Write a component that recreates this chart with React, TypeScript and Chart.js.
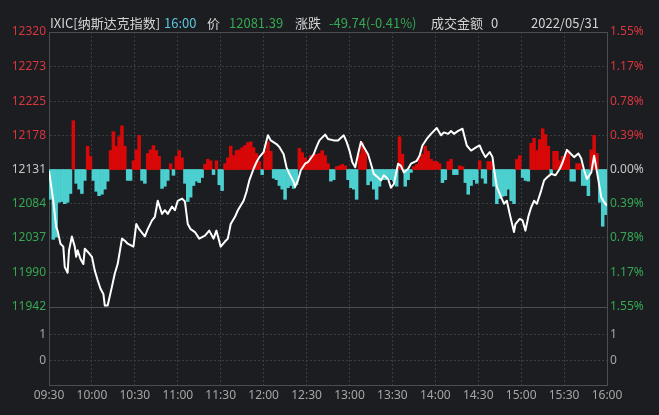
import { useEffect, useRef } from "react";
import { Chart, registerables } from "chart.js";
Chart.register(...registerables);

// ---------- data ----------
const PREV_CLOSE = 12131;
const timeTickMinutes = [0, 30, 60, 90, 120, 150, 180, 210, 240, 270, 300, 330, 360, 390];
const timeLabels = ["09:30", "10:00", "10:30", "11:00", "11:30", "12:00", "12:30", "13:00", "13:30", "14:00", "14:30", "15:00", "15:30", "16:00"];
const priceTicks = [12320, 12273, 12225, 12178, 12131, 12084, 12037, 11990, 11942];
const pctLabels = ["1.55%", "1.17%", "0.78%", "0.39%", "0.00%", "0.39%", "0.78%", "1.17%", "1.55%"];
const volTicks = [1, 0];

// white index line: minutes since 09:30 and price
const lineMinutes = [
  0, 3, 5, 6, 8, 10, 11, 13, 14, 16, 18, 19, 20, 22, 24, 25, 27, 30, 32, 34,
  36, 38, 39, 41, 44, 46, 48, 51, 53, 55, 59, 61, 63, 67, 69, 72, 74, 76, 79, 81,
  83, 86, 88, 90, 93, 95, 97, 99, 102, 105, 109, 112, 115, 117, 120, 123, 125, 127, 130, 132,
  136, 138, 140, 143, 145, 147, 150, 153, 155, 159, 161, 164, 166, 168, 171, 172, 174, 176, 179, 181,
  185, 187, 189, 193, 195, 199, 202, 206, 208, 210, 212, 214, 216, 218, 220, 223, 225, 227, 230, 232,
  234, 237, 239, 241, 244, 246, 248, 251, 253, 257, 259, 261, 264, 267, 271, 274, 276, 279, 281, 283,
  286, 289, 292, 295, 299, 301, 303, 305, 308, 310, 311, 313, 316, 318, 320, 322, 325, 326, 329, 331,
  333, 335, 337, 339, 341, 344, 346, 348, 351, 354, 357, 359, 362, 365, 367, 370, 372, 374, 376, 379,
  381, 382, 384, 386, 388, 390,
];
const linePrices = [
  12129, 12088, 12052, 12047, 12029, 12025, 11997, 11989, 12020, 12039, 12025, 12011, 12020, 12008, 12001, 12022, 12018, 12011, 11992, 11979,
  11967, 11960, 11944, 11944, 11970, 11988, 12001, 12036, 12033, 12029, 12025, 12056, 12049, 12039, 12049, 12061, 12066, 12088, 12070, 12075,
  12070, 12080, 12075, 12088, 12091, 12087, 12056, 12049, 12045, 12036, 12040, 12047, 12036, 12047, 12025, 12032, 12036, 12056, 12066, 12075,
  12088, 12100, 12116, 12132, 12141, 12148, 12155, 12178, 12171, 12166, 12162, 12152, 12134, 12125, 12114, 12107, 12116, 12130, 12139, 12141,
  12152, 12162, 12171, 12179, 12173, 12171, 12171, 12178, 12169, 12157, 12141, 12134, 12152, 12169, 12162, 12152, 12139, 12125, 12120, 12116,
  12123, 12118, 12106, 12111, 12139, 12136, 12127, 12132, 12139, 12143, 12150, 12164, 12173, 12180, 12188, 12178, 12182, 12180, 12184, 12180,
  12184, 12187, 12164, 12157, 12162, 12164, 12155, 12148, 12155, 12148, 12132, 12107, 12093, 12084, 12088, 12070, 12045, 12056, 12063, 12061,
  12047, 12066, 12079, 12088, 12084, 12102, 12116, 12120, 12125, 12123, 12132, 12141, 12158, 12152, 12148, 12153, 12146, 12130, 12118, 12127,
  12150, 12139, 12116, 12093, 12086, 12081.39,
];

// red / cyan histogram: one bar per 2 minutes, offset from previous close (points)
const barOffsets = [
  -41, -96, -93, -45, -44, -47, -45, -33, 67, -19,
  -27, -33, -15, 32, 18, -15, -30, -36, -34, -27,
  -16, 26, 52, 32, 45, 60, 32, -15, -15, 12,
  27, 47, -15, -19, 22, 27, 33, 26, 18, -26,
  -23, -15, 8, -8, 18, 26, 16, -19, -44, -38,
  -22, -16, -18, -11, 7, 14, 12, -7, 12, -21,
  -29, 8, 16, 32, 19, 26, 27, 30, 33, 37,
  38, 30, 22, 11, -7, 26, 38, 25, -12, -14,
  -22, -27, -41, -25, -22, -26, -21, 29, 23, 16,
  12, 19, 21, 21, 22, 26, 19, 8, -16, -14,
  4, 5, 7, 5, -14, -25, -27, -41, 21, 37,
  25, -21, -16, -27, -41, -23, -14, -14, -11, -14,
  -16, -23, 45, 21, -23, -14, -4, 4, 7, 15,
  21, 32, 25, 14, 11, 11, 8, -18, -14, 11,
  14, -7, -7, 5, 4, -18, -34, -22, -14, -19,
  12, -12, -19, 11, 11, -23, -47, -40, -37, -36,
  -27, -43, -47, 14, 19, -11, -15, -16, 36, 43,
  26, 41, 56, 48, 32, -5, 25, 25, 12, 18,
  18, 26, -16, -16, 8, 8, -22, -22, -36, 27,
  47, 22, -45, -78, -62,
];

// header texts
const headerName = "IXIC[纳斯达克指数]";
const headerTime = "16:00";
const headerPriceLabel = "价";
const headerPrice = "12081.39";
const headerChangeLabel = "涨跌";
const headerChange = "-49.74(-0.41%)";
const headerTurnoverLabel = "成交金额";
const headerTurnover = "0";
const headerDate = "2022/05/31";

// ---------- styles ----------
const BG = "#1b1d21";
const GRID = "#3a3d42";
const FRAME = "#4a4d52";
const RED_TXT = "#d9363e";
const GREEN_TXT = "#36a852";
const GREY_TXT = "#a6a6a6";
const MID_TXT = "#c8c8c8";
const BAR_RED = "#d80808";
const BAR_CYAN = "#4ccfcf";
const TICK_FONT = { family: "'Noto Sans', 'DejaVu Sans', sans-serif", size: 12 };

const priceColor = (v: number) => (v > PREV_CLOSE ? RED_TXT : v < PREV_CLOSE ? GREEN_TXT : MID_TXT);

const framePlugin = {
  id: "frameLines",
  beforeDatasetsDraw(chart: any) {
    const { ctx, chartArea } = chart;
    const ys = chart.scales.y;
    ctx.save();
    ctx.strokeStyle = FRAME;
    ctx.lineWidth = 1;
    ctx.beginPath();
    ctx.moveTo(chartArea.left, Math.round(chartArea.top) + 0.5);
    ctx.lineTo(chartArea.right, Math.round(chartArea.top) + 0.5);
    ctx.moveTo(chartArea.left, Math.round(ys.bottom) + 0.5);
    ctx.lineTo(chartArea.right, Math.round(ys.bottom) + 0.5);
    ctx.stroke();
    ctx.restore();
  },
};

export default function App() {
  const ref = useRef<HTMLCanvasElement | null>(null);

  useEffect(() => {
    if (!ref.current) return;
    const lineData = lineMinutes.map((m, i) => ({ x: m, y: linePrices[i] }));
    const barData = barOffsets.map((v, i) => ({ x: 2 * i + 1, y: [PREV_CLOSE, PREV_CLOSE + v] }));

    const chart = new Chart(ref.current, {
      type: "bar",
      data: {
        datasets: [
          {
            type: "line",
            data: lineData as any,
            borderColor: "#ffffff",
            borderWidth: 2,
            pointRadius: 0,
            tension: 0,
            borderJoinStyle: "round",
            xAxisID: "x",
            yAxisID: "y",
            order: 0,
          } as any,
          {
            type: "bar",
            data: barData as any,
            backgroundColor: barOffsets.map((v) => (v >= 0 ? BAR_RED : BAR_CYAN)),
            borderWidth: 0,
            barPercentage: 1,
            categoryPercentage: 1,
            xAxisID: "x",
            yAxisID: "y",
            order: 1,
          } as any,
        ],
      },
      options: {
        responsive: false,
        animation: false,
        layout: { padding: { top: 32, left: 0, right: 0, bottom: 0 } },
        plugins: { legend: { display: false }, tooltip: { enabled: false } },
        scales: {
          x: {
            type: "linear",
            position: "bottom",
            min: 0,
            max: 390,
            offset: false,
            afterBuildTicks: (s: any) => {
              s.ticks = timeTickMinutes.map((v) => ({ value: v }));
            },
            afterFit: (s: any) => {
              s.height = 30;
            },
            ticks: {
              autoSkip: false,
              maxRotation: 0,
              padding: 3,
              color: GREY_TXT,
              font: TICK_FONT,
              callback: (_v: any, i: number) => timeLabels[i],
            },
            grid: { color: GRID, drawTicks: false, offset: false },
            border: { color: FRAME, dash: [2, 2] },
          },
          y: {
            type: "linear",
            position: "left",
            stack: "L",
            stackWeight: 275,
            weight: 2,
            min: 11942,
            max: 12320,
            afterBuildTicks: (s: any) => {
              s.ticks = priceTicks.map((v) => ({ value: v }));
            },
            afterFit: (s: any) => {
              s.width = 49;
            },
            ticks: {
              padding: 3,
              font: TICK_FONT,
              color: (c: any) => priceColor(c.tick.value),
              callback: (_v: any, i: number) => String(priceTicks[i]),
            },
            grid: { color: GRID, drawTicks: false },
            border: { color: FRAME, dash: [2, 2] },
          },
          yv: {
            type: "linear",
            position: "left",
            stack: "L",
            stackWeight: 78,
            weight: 1,
            min: -0.95,
            max: 2.05,
            afterBuildTicks: (s: any) => {
              s.ticks = volTicks.map((v) => ({ value: v }));
            },
            afterFit: (s: any) => {
              s.width = 49;
            },
            ticks: {
              padding: 3,
              font: TICK_FONT,
              color: GREY_TXT,
              callback: (_v: any, i: number) => String(volTicks[i]),
            },
            grid: { color: GRID, drawTicks: false },
            border: { color: FRAME, dash: [2, 2] },
          },
          yr: {
            type: "linear",
            position: "right",
            stack: "R",
            stackWeight: 275,
            weight: 1,
            min: 11942,
            max: 12320,
            afterBuildTicks: (s: any) => {
              s.ticks = priceTicks.map((v) => ({ value: v }));
            },
            afterFit: (s: any) => {
              s.width = 52;
            },
            ticks: {
              padding: 3,
              font: TICK_FONT,
              color: (c: any) => priceColor(c.tick.value),
              callback: (_v: any, i: number) => pctLabels[i],
            },
            grid: { drawOnChartArea: false, drawTicks: false },
            border: { color: FRAME },
          },
          yvr: {
            type: "linear",
            position: "right",
            stack: "R",
            stackWeight: 78,
            weight: 2,
            min: -0.95,
            max: 2.05,
            afterBuildTicks: (s: any) => {
              s.ticks = volTicks.map((v) => ({ value: v }));
            },
            afterFit: (s: any) => {
              s.width = 52;
            },
            ticks: {
              padding: 3,
              font: TICK_FONT,
              color: GREY_TXT,
              callback: (_v: any, i: number) => String(volTicks[i]),
            },
            grid: { drawOnChartArea: false, drawTicks: false },
            border: { color: FRAME },
          },
        } as any,
      },
      plugins: [framePlugin],
    });
    return () => chart.destroy();
  }, []);

  const headFont = "'Noto Sans CJK SC', 'Noto Sans', sans-serif";
  const span = (left: number, color: string, text: string) => (
    <span
      style={{
        position: "absolute",
        left,
        top: 14,
        fontSize: 13,
        lineHeight: "17px",
        color,
        fontFamily: headFont,
        whiteSpace: "nowrap",
      }}
    >
      {text}
    </span>
  );

  return (
    <div
      style={{
        position: "fixed",
        left: 0,
        top: 0,
        width: 659,
        height: 415,
        background: BG,
        overflow: "hidden",
      }}
    >
      <canvas ref={ref} width={659} height={415} style={{ display: "block" }} />
      {span(50, "#d4d4d4", headerName)}
      {span(164, "#5cc6de", headerTime)}
      {span(207, "#d4d4d4", headerPriceLabel)}
      {span(229, GREEN_TXT, headerPrice)}
      {span(295, "#d4d4d4", headerChangeLabel)}
      {span(329, GREEN_TXT, headerChange)}
      {span(431, "#d4d4d4", headerTurnoverLabel)}
      {span(491, "#d4d4d4", headerTurnover)}
      {span(531, "#d4d4d4", headerDate)}
    </div>
  );
}
